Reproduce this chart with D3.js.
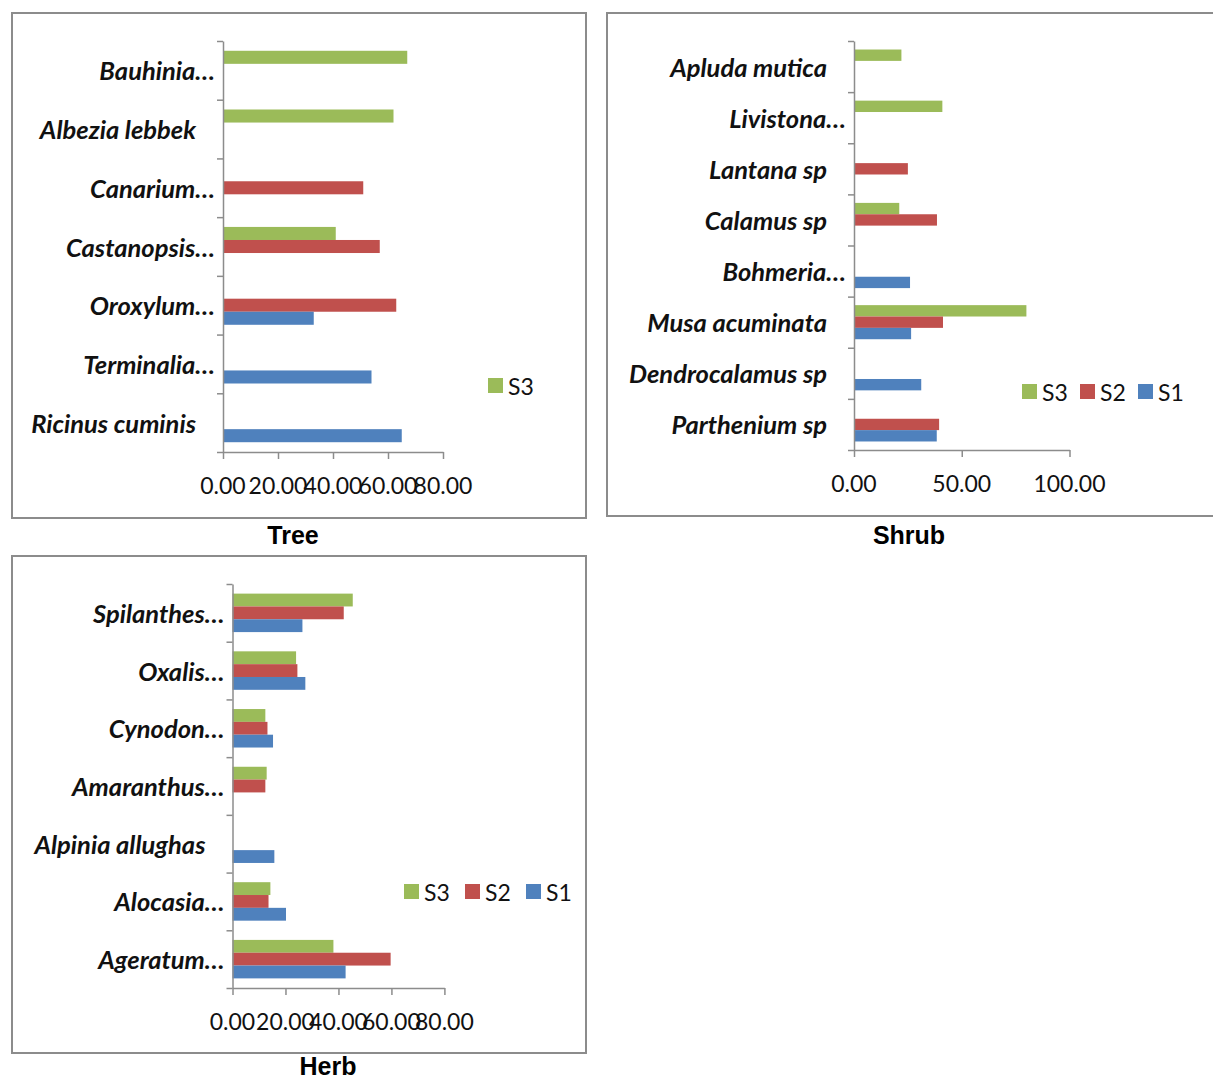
<!DOCTYPE html>
<meta charset="utf-8">
<style>
body { margin: 0; background: #fff; }
.frame { fill: #fff; stroke: #8c8c8c; stroke-width: 2px; }
.axis path, .axis line { stroke: #8c8c8c; stroke-width: 1.5px; }
.cat { font-family: Lato, sans-serif; font-style: italic; font-weight: bold; font-size: 25.5px; fill: #111; }
.tick-lab { font-family: Lato, sans-serif; font-size: 23px; fill: #111; }
.leg { font-family: Lato, sans-serif; font-size: 23px; fill: #111; }
.title { font-family: "Liberation Sans", Arial, sans-serif; font-weight: bold; font-size: 25px; fill: #000; }
</style>
<svg width="1213" height="1079"></svg>
<script src="https://d3js.org/d3.v7.min.js"></script>
<script>
// series order inside each group, top to bottom
var seriesNames = ["S3", "S2", "S1"];
var colors = {S3: "#9BBB59", S2: "#C0504D", S1: "#4F81BD"};

// Tree
var treeCats = ["Bauhinia…", "Albezia lebbek", "Canarium…", "Castanopsis…", "Oroxylum…", "Terminalia…", "Ricinus cuminis"];
var treeS3 = [67, 62, null, 41, null, null, null];
var treeS2 = [null, null, 51, 57, 63, null, null];
var treeS1 = [null, null, null, null, 33, 54, 65];
var treeTicks = [0, 20, 40, 60, 80];
var treeLegend = ["S3"];

// Shrub
var shrubCats = ["Apluda mutica", "Livistona…", "Lantana sp", "Calamus sp", "Bohmeria…", "Musa acuminata", "Dendrocalamus sp", "Parthenium sp"];
var shrubS3 = [22, 41, null, 21, null, 80, null, null];
var shrubS2 = [null, null, 25, 38.5, null, 41.3, null, 39.5];
var shrubS1 = [null, null, null, null, 26, 26.5, 31.2, 38.4];
var shrubTicks = [0, 50, 100];
var shrubLegend = ["S3", "S2", "S1"];

// Herb
var herbCats = ["Spilanthes…", "Oxalis…", "Cynodon…", "Amaranthus…", "Alpinia allughas", "Alocasia…", "Ageratum…"];
var herbS3 = [45.4, 24, 12.4, 12.9, null, 14.3, 38.1];
var herbS2 = [42, 24.5, 13.2, 12.4, null, 13.6, 59.7];
var herbS1 = [26.4, 27.5, 15.3, null, 15.8, 20.2, 42.7];
var herbTicks = [0, 20, 40, 60, 80];
var herbLegend = ["S3", "S2", "S1"];

var svg = d3.select("svg");

function panel(p) {
  var g = svg.append("g");
  g.append("rect").attr("class", "frame")
    .attr("x", p.frame[0]).attr("y", p.frame[1]).attr("width", p.frame[2]).attr("height", p.frame[3]);

  var x = d3.scaleLinear().domain([p.ticks[0], p.ticks[p.ticks.length - 1]]).range([p.x0, p.x1]);
  var y = d3.scaleBand().domain(p.cats).range([p.yTop, p.yBot]);
  var inner = d3.scaleBand().domain(seriesNames).range([0, y.bandwidth()]).paddingOuter(0.75);

  var rows = [];
  p.cats.forEach(function(c, i) {
    seriesNames.forEach(function(s) {
      var v = p.values[s][i];
      if (v != null) rows.push({cat: c, s: s, v: v});
    });
  });

  g.selectAll("rect.bar").data(rows).enter().append("rect")
    .attr("class", "bar")
    .attr("x", x(0))
    .attr("y", function(d) { return y(d.cat) + inner(d.s); })
    .attr("width", function(d) { return x(d.v) - x(0); })
    .attr("height", inner.bandwidth())
    .attr("fill", function(d) { return colors[d.s]; });

  // category axis with ticks on band boundaries
  var yb = d3.scaleLinear().domain([0, p.cats.length]).range([p.yTop, p.yBot]);
  g.append("g").attr("class", "axis")
    .attr("transform", "translate(" + x(0) + ",0)")
    .call(d3.axisLeft(yb).tickValues(d3.range(p.cats.length + 1)).tickSize(6).tickSizeOuter(0).tickFormat(""));

  g.append("g").attr("class", "axis")
    .attr("transform", "translate(0," + p.yBot + ")")
    .call(d3.axisBottom(x).tickValues(p.ticks).tickSize(7).tickSizeOuter(0).tickFormat(""));

  g.selectAll("text.tick-lab").data(p.ticks).enter().append("text")
    .attr("class", "tick-lab")
    .attr("x", function(d) { return x(d); })
    .attr("y", p.yBot + 33)
    .attr("text-anchor", "middle")
    .attr("dominant-baseline", "central")
    .text(function(d) { return d3.format(".2f")(d); });

  g.selectAll("text.cat").data(p.cats).enter().append("text")
    .attr("class", "cat")
    .attr("x", function(d) { return /…$/.test(d) ? x(0) - 8 : x(0) - 27; })
    .attr("y", function(d) { return y(d) + y.bandwidth() / 2; })
    .attr("text-anchor", "end")
    .attr("dominant-baseline", "central")
    .text(function(d) { return d; });

  var lg = g.selectAll("g.leg").data(p.legend).enter().append("g")
    .attr("transform", function(d, i) { return "translate(" + (p.legX + i * p.legStep) + "," + p.legY + ")"; });
  lg.append("rect").attr("width", 15).attr("height", 15).attr("fill", function(d) { return colors[d]; });
  lg.append("text").attr("class", "leg").attr("x", 20).attr("y", 8)
    .attr("dominant-baseline", "central").text(function(d) { return d; });

  svg.append("text").attr("class", "title")
    .attr("x", p.titleX).attr("y", p.titleY)
    .attr("text-anchor", "middle").attr("dominant-baseline", "central")
    .text(p.title);
}

panel({
  frame: [12, 13, 574, 505], cats: treeCats, values: {S3: treeS3, S2: treeS2, S1: treeS1},
  ticks: treeTicks, x0: 223, x1: 443, yTop: 41, yBot: 452,
  legend: treeLegend, legX: 488, legY: 378, legStep: 58,
  title: "Tree", titleX: 293, titleY: 535
});

panel({
  frame: [607, 13, 640, 503], cats: shrubCats, values: {S3: shrubS3, S2: shrubS2, S1: shrubS1},
  ticks: shrubTicks, x0: 854, x1: 1069.5, yTop: 41, yBot: 450,
  legend: shrubLegend, legX: 1022, legY: 384, legStep: 58,
  title: "Shrub", titleX: 909, titleY: 535
});

panel({
  frame: [12, 556, 574, 497], cats: herbCats, values: {S3: herbS3, S2: herbS2, S1: herbS1},
  ticks: herbTicks, x0: 232.5, x1: 444.4, yTop: 584, yBot: 988,
  legend: herbLegend, legX: 404, legY: 884, legStep: 61,
  title: "Herb", titleX: 328, titleY: 1066
});
</script>
